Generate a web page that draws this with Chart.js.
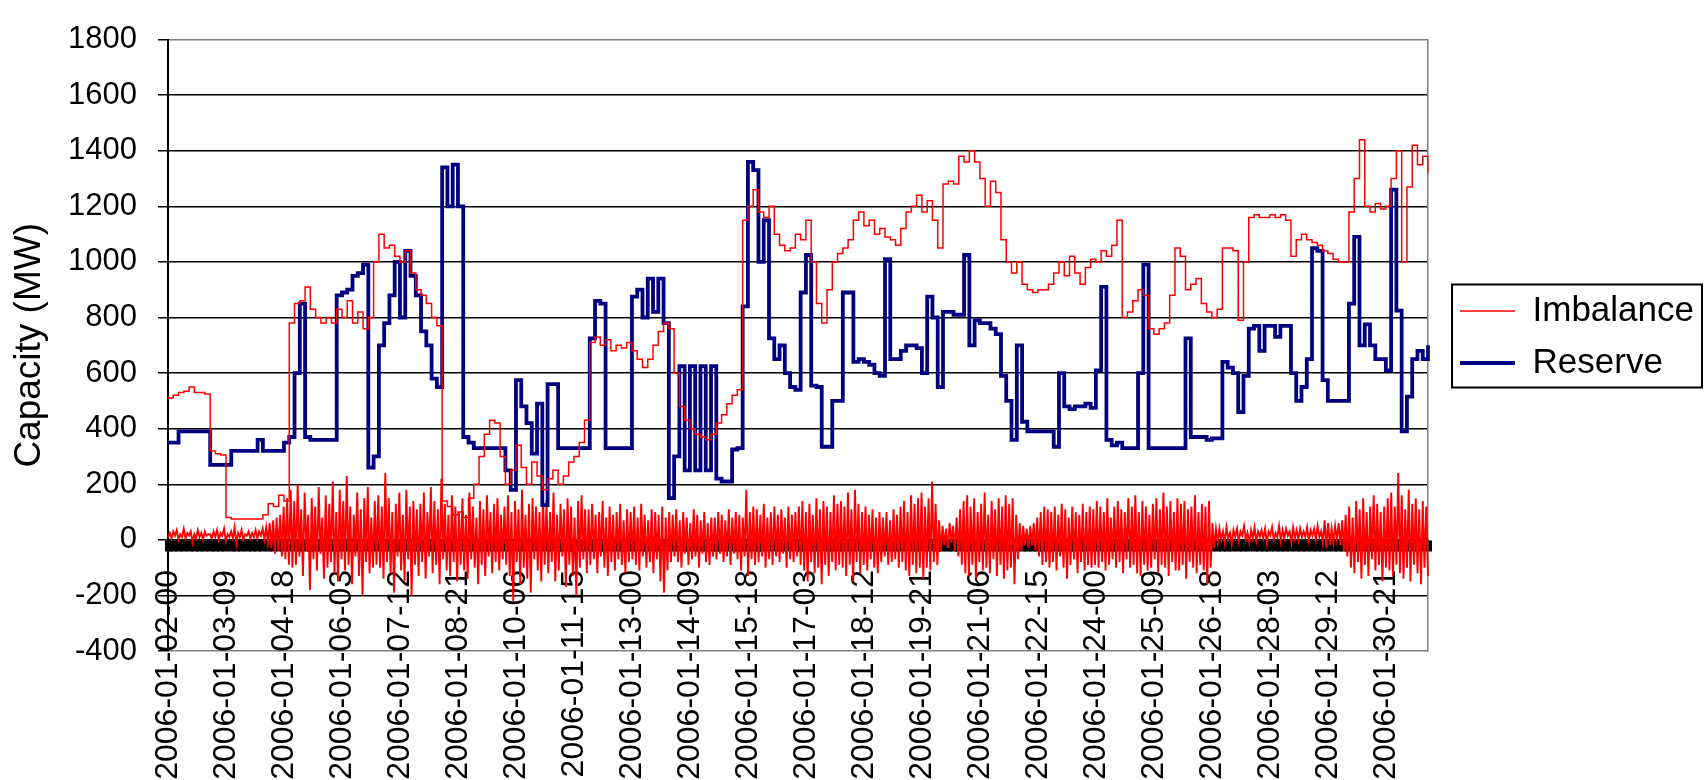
<!DOCTYPE html>
<html>
<head>
<meta charset="utf-8">
<script src="https://cdn.jsdelivr.net/npm/chart.js@4.4.1/dist/chart.umd.min.js"></script>
<style>
  html, body { margin: 0; padding: 0; background: #fff; }
</style>
</head>
<body>
<canvas id="grafica" width="1704" height="780"></canvas>
<script>
// etiquetas visibles del eje horizontal (cada 33 horas)
const tickLabels = [
  '2006-01-02-00', '2006-01-03-09', '2006-01-04-18', '2006-01-06-03', '2006-01-07-12',
  '2006-01-08-21', '2006-01-10-06', '2006-01-11-15', '2006-01-13-00', '2006-01-14-09',
  '2006-01-15-18', '2006-01-17-03', '2006-01-18-12', '2006-01-19-21', '2006-01-21-06',
  '2006-01-22-15', '2006-01-24-00', '2006-01-25-09', '2006-01-26-18', '2006-01-28-03',
  '2006-01-29-12', '2006-01-30-21'
];

// categorias: cada 3 horas (series principales) y cada hora (serie alrededor de 0)
const categories = [];
const hourCategories = [];
for (let d = 2; d <= 31; d++) {
  for (let h = 0; h < 24; h++) {
    const s = '2006-01-' + String(d).padStart(2, '0') + '-' + String(h).padStart(2, '0');
    hourCategories.push(s);
    if (h % 3 === 0) categories.push(s);
  }
}

// Imbalance (MW), 8 valores por dia
const imbalance = [
  510, 520, 530, 535, 550, 530, 530, 525,      // 02
  320, 310, 305, 80, 75, 75, 75, 75,           // 03
  75, 75, 90, 130, 120, 160, 140, 780,         // 04
  850, 860, 910, 830, 800, 780, 800, 780,      // 05
  830, 800, 860, 780, 820, 760, 800, 1000,     // 06
  1100, 1050, 1060, 1020, 1000, 1040, 960, 900, // 07
  880, 850, 800, 770, 140, 120, 90, 100,       // 08
  80, 150, 200, 300, 380, 430, 420, 300,       // 09
  200, 250, 340, 260, 200, 280, 230, 180,      // 10
  220, 250, 200, 230, 280, 300, 350, 430,      // 11
  710, 730, 700, 720, 680, 700, 690, 710,      // 12
  680, 650, 620, 650, 700, 750, 780, 760,      // 13
  600, 480, 430, 400, 380, 370, 360, 380,      // 14
  420, 450, 490, 520, 540, 1150, 1200, 1260,   // 15
  1180, 1160, 1200, 1100, 1060, 1040, 1050, 1100, // 16
  1080, 1150, 1000, 850, 780, 900, 1000, 1030, // 17
  1050, 1080, 1150, 1180, 1130, 1150, 1100, 1120, // 18
  1090, 1080, 1060, 1120, 1180, 1200, 1240, 1180, // 19
  1220, 1150, 1050, 1280, 1290, 1280, 1380, 1360, // 20
  1400, 1360, 1300, 1200, 1290, 1250, 1080, 1000, // 21
  960, 1000, 920, 900, 890, 900, 900, 920,     // 22
  960, 1000, 950, 1020, 960, 920, 980, 1010,   // 23
  1000, 1040, 1020, 1060, 1150, 800, 820, 860, // 24
  900, 880, 760, 740, 760, 780, 880, 1050,     // 25
  1020, 900, 920, 940, 850, 820, 800, 830,     // 26
  1050, 1050, 1040, 790, 1000, 1160, 1170, 1160, // 27
  1160, 1170, 1160, 1170, 1150, 1020, 1080, 1100, // 28
  1080, 1070, 1060, 1040, 1030, 1010, 1000, 1000, // 29
  1180, 1300, 1440, 1200, 1180, 1210, 1190, 1200, // 30
  1300, 1400, 1000, 1270, 1420, 1350, 1380, 1320  // 31
];

// Reserve (MW)
const reserve = [
  350, 350, 390, 390, 390, 390, 390, 390,      // 02
  270, 270, 270, 270, 320, 320, 320, 320,      // 03
  320, 360, 320, 320, 320, 320, 350, 370,      // 04
  600, 850, 370, 360, 360, 360, 360, 360,      // 05
  880, 890, 900, 950, 960, 990, 260, 300,      // 06
  700, 780, 880, 1000, 800, 1040, 950, 880,    // 07
  750, 700, 580, 550, 1340, 1200, 1350, 1200,  // 08
  370, 350, 330, 330, 330, 330, 330, 330,      // 09
  250, 180, 575, 480, 420, 310, 490, 125,      // 10
  560, 560, 330, 330, 330, 330, 330, 330,      // 11
  725, 860, 850, 330, 330, 330, 330, 330,      // 12
  875, 900, 800, 940, 820, 940, 780, 150,      // 13
  300, 625, 250, 625, 250, 625, 250, 625,      // 14
  220, 210, 210, 325, 330, 840, 1360, 1330,    // 15
  1000, 1150, 725, 650, 700, 600, 550, 540,    // 16
  890, 1025, 555, 550, 335, 335, 500, 500,     // 17
  890, 890, 640, 650, 640, 630, 600, 590,      // 18
  1010, 650, 650, 680, 700, 700, 690, 600,     // 19
  875, 800, 550, 820, 820, 810, 810, 1025,     // 20
  700, 790, 780, 780, 760, 740, 590, 500,      // 21
  360, 700, 425, 390, 390, 390, 390, 390,      // 22
  335, 600, 480, 470, 480, 480, 490, 475,      // 23
  610, 910, 360, 340, 350, 330, 330, 330,      // 24
  600, 990, 330, 330, 330, 330, 330, 330,      // 25
  330, 725, 370, 370, 370, 360, 365, 365,      // 26
  640, 620, 600, 460, 590, 760, 770, 680,      // 27
  770, 770, 730, 770, 770, 600, 500, 550,      // 28
  650, 1050, 1040, 575, 500, 500, 500, 500,    // 29
  850, 1090, 700, 775, 700, 650, 650, 610,     // 30
  1260, 825, 390, 515, 650, 680, 650, 700      // 31
];

// serie roja horaria alrededor de 0 (sin entrada en la leyenda), 24 valores por dia
const imbalanceDelta = [
  10, 25, 5, 30, 15, 35, 0, 20, 10, 40, 5, 25, 15, 30, -10, 20, 5, 35, 10, 25, 0, 30, 15, 20,                 // 02
  20, 5, 30, 10, 35, 0, 25, 15, 40, -5, 20, 10, 30, 5, 45, -15, 25, 10, 35, 0, 20, 15, 30, 5,                 // 03
  25, 10, 35, 5, 30, 15, 40, 0, 45, -10, 60, -30, 70, -50, 80, -40, 90, -60, 120, -70, 150, -90, 180, -100,   // 04
  140, -90, 200, -60, 110, -130, 170, -40, 90, -180, 150, -70, 120, -110, 190, -50, 80, -140, 160, -100, 130, -80, 210, -120, // 05
  100, -150, 180, -70, 140, -110, 230, -90, 120, -160, 90, -60, 170, -130, 110, -200, 150, -80, 190, -120, 80, -100, 140, -90, // 06
  160, -100, 120, -140, 240, -80, 150, -120, 100, -190, 130, -60, 170, -110, 90, -150, 180, -70, 120, -200, 140, -90, 110, -130, // 07
  130, -80, 170, -140, 100, -60, 190, -120, 140, -90, 110, -160, 220, -70, 130, -110, 90, -130, 160, -80, 120, -150, 100, -90, // 08
  150, -110, 90, -140, 170, -70, 120, -100, 80, -160, 140, -90, 110, -130, 160, -60, 100, -120, 130, -80, 150, -110, 90, -70, // 09
  120, -90, 160, -130, 100, -220, 140, -80, 110, -160, 180, -100, 90, -140, 130, -190, 150, -70, 120, -110, 100, -150, 160, -90, // 10
  140, -120, 100, -80, 170, -150, 90, -110, 130, -60, 110, -170, 150, -90, 120, -130, 80, -200, 140, -100, 160, -70, 110, -120, // 11
  110, -90, 130, -70, 90, -120, 100, -60, 140, -100, 80, -130, 120, -80, 90, -110, 100, -70, 130, -90, 70, -120, 110, -80, // 12
  100, -70, 120, -90, 80, -110, 130, -60, 90, -100, 70, -80, 110, -120, 100, -70, 90, -150, 120, -190, 80, -110, 100, -80, // 13
  90, -60, 110, -80, 70, -100, 100, -50, 80, -90, 60, -70, 110, -60, 90, -100, 70, -50, 100, -80, 60, -90, 80, -60,       // 14
  80, -70, 100, -50, 90, -80, 70, -60, 110, -90, 80, -50, 100, -70, 90, -110, 80, -60, 180, -130, 100, -70, 120, -90,     // 15
  110, -80, 90, -60, 130, -100, 80, -70, 100, -90, 120, -60, 90, -80, 110, -50, 80, -100, 120, -70, 90, -80, 100, -60,    // 16
  120, -90, 140, -110, 100, -150, 130, -80, 90, -120, 150, -100, 110, -160, 140, -90, 120, -130, 100, -80, 160, -110, 130, -90, // 17
  140, -100, 120, -130, 170, -90, 110, -150, 180, -80, 130, -120, 100, -90, 120, -110, 90, -70, 110, -100, 80, -120, 100, -80, // 18
  80, -60, 100, -90, 70, -80, 110, -70, 90, -100, 120, -80, 140, -110, 100, -130, 160, -90, 130, -120, 150, -100, 170, -140, // 19
  120, -100, 150, -110, 210, -80, 130, -90, 70, -40, 50, -20, 40, -30, 60, -10, 50, -40, 80, -60, 110, -90, 140, -120,    // 20
  160, -130, 120, -90, 150, -140, 100, -80, 130, -110, 170, -100, 90, -120, 140, -70, 110, -130, 150, -90, 120, -140, 160, -110, // 21
  130, -100, 150, -160, 90, -70, 60, -40, 50, -20, 40, -30, 50, -20, 60, -40, 80, -60, 100, -90, 120, -80, 110, -100,     // 22
  100, -80, 120, -110, 90, -60, 130, -100, 110, -140, 80, -90, 120, -70, 100, -120, 90, -80, 130, -110, 100, -90, 120, -100, // 23
  110, -90, 140, -100, 120, -80, 100, -110, 150, -90, 80, -70, 120, -100, 140, -80, 110, -120, 100, -70, 150, -100, 120, -90, // 24
  160, -120, 100, -130, 140, -90, 120, -110, 90, -100, 130, -70, 150, -120, 110, -90, 170, -100, 120, -130, 140, -80, 100, -110, // 25
  150, -110, 130, -90, 140, -140, 110, -80, 120, -100, 160, -120, 100, -90, 130, -110, 120, -160, 140, -100, 60, -30, 40, -10, // 26
  40, 0, 30, -10, 45, 5, 25, -15, 35, 10, 40, -5, 30, 15, 50, 0, 25, -10, 35, 5, 45, -5, 30, 10,                          // 27
  35, 5, 40, -10, 30, 15, 45, 0, 25, 10, 50, -5, 35, 5, 40, 15, 30, -10, 45, 5, 35, 0, 40, 10,                            // 28
  30, 10, 45, -5, 35, 15, 40, 0, 50, 10, 30, -10, 70, -30, 60, -20, 40, -10, 50, 0, 60, -20, 70, -40,                     // 29
  90, -60, 120, -100, 80, -120, 140, -80, 110, -140, 150, -90, 100, -130, 120, -70, 160, -110, 130, -90, 100, -150, 120, -100, // 30
  150, -110, 170, -130, 120, -90, 240, -120, 160, -140, 110, -100, 180, -150, 130, -90, 150, -120, 110, -160, 140, -100, 120, -130 // 31
];

const fam = "'Liberation Sans', Arial, sans-serif";
Chart.defaults.font.family = fam;
Chart.defaults.color = '#000';

// marco negro alrededor de la leyenda
const legendBox = {
  id: 'legendBox',
  afterDraw(chart) {
    const lg = chart.legend;
    const hb = lg.legendHitBoxes;
    if (!hb || !hb.length) return;
    const first = hb[0];
    const last = hb[hb.length - 1];
    const c = chart.ctx;
    c.save();
    c.strokeStyle = '#000';
    c.lineWidth = 2;
    const x0 = first.left - 8;
    const y0 = first.top - 9;
    c.strokeRect(x0, y0, lg.right - 2 - x0, last.top + last.height + 7 - y0);
    c.restore();
  }
};

const ctx = document.getElementById('grafica').getContext('2d');
new Chart(ctx, {
  type: 'line',
  data: {
    labels: categories,
    datasets: [
      { label: 'Imbalance', data: imbalance, borderColor: '#ff0000', backgroundColor: '#ff0000',
        borderWidth: 1.5, pointRadius: 0, stepped: true },
      { label: 'Reserve', data: reserve, borderColor: '#000080', backgroundColor: '#000080',
        borderWidth: 3.8, pointRadius: 0, stepped: true },
      { label: 'Imbalance delta', data: imbalanceDelta, xAxisID: 'xh',
        borderColor: '#ff0000', backgroundColor: '#ff0000', borderWidth: 1.9, pointRadius: 0 }
    ]
  },
  options: {
    responsive: false,
    animation: false,
    devicePixelRatio: 1,
    layout: { padding: { top: 23, bottom: 129, left: 0, right: 0 } },
    plugins: {
      legend: {
        position: 'right',
        labels: {
          filter: item => item.datasetIndex < 2,
          usePointStyle: true,
          pointStyle: 'line',
          pointStyleWidth: 55,
          padding: 17,
          color: '#000',
          font: { family: fam, size: 35 }
        }
      },
      tooltip: { enabled: false }
    },
    scales: {
      x: {
        type: 'category',
        position: { y: 0 },
        grid: { display: true, drawOnChartArea: false, drawTicks: true, tickLength: 11,
                tickWidth: 7, tickColor: '#000' },
        border: { display: true, color: '#000', width: 1.5 },
        ticks: {
          autoSkip: false, minRotation: 90, maxRotation: 90, padding: 19,
          color: '#000', font: { family: fam, size: 32 },
          callback: function (v) {
            const l = this.getLabelForValue(v);
            return tickLabels.includes(l) ? l : '';
          }
        }
      },
      xh: {
        type: 'category',
        labels: hourCategories,
        display: false
      },
      y: {
        min: -400,
        max: 1800,
        ticks: { stepSize: 200, padding: 21, color: '#000', font: { family: fam, size: 31 },
                 callback: v => String(v) },
        grid: {
          color: c => (c.tick && (c.tick.value === 1800 || c.tick.value === -400)) ? '#808080' : '#000',
          lineWidth: 1.5, tickLength: 10, tickColor: '#000'
        },
        border: { display: true, color: '#000', width: 2 },
        title: { display: true, text: 'Capacity (MW)', color: '#000',
                 font: { family: fam, size: 37 }, padding: { top: 8, bottom: 0 } },
        afterFit: s => { s.width = 168; }
      },
      y2: {
        position: 'right',
        min: 0,
        max: 1,
        grid: { display: false },
        ticks: { display: false },
        border: { display: true, color: '#808080', width: 1.5 },
        afterFit: s => { s.width = 15; }
      }
    }
  },
  plugins: [legendBox]
});
</script>
</body>
</html>
